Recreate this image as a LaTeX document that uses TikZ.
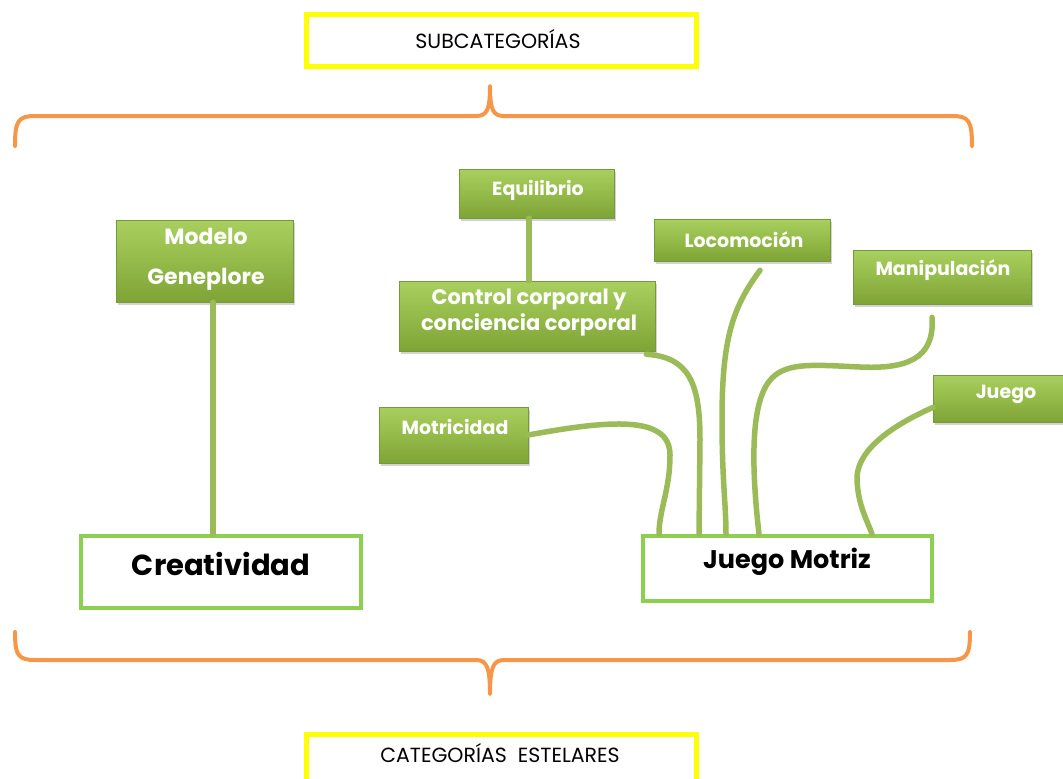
\documentclass[tikz,border=0pt]{standalone}
\usepackage{fontspec}
\setmainfont{Poppins}
\usetikzlibrary{shadows}
\definecolor{gtop}{HTML}{A9D05E}
\definecolor{gbot}{HTML}{7FA436}
\definecolor{gedge}{HTML}{76993A}
\definecolor{link}{HTML}{9BBB59}
\definecolor{frame}{HTML}{8DCF50}
\definecolor{brace}{HTML}{F79646}
\definecolor{yel}{HTML}{FFFF00}
\tikzset{
  gbox/.style={rectangle, inner sep=0pt, top color=gtop, bottom color=gbot,
    draw=gedge, line width=0.6pt,
    drop shadow={shadow xshift=2pt, shadow yshift=-3pt, opacity=0.35}},
  gtext/.style={text=white, align=center, inner sep=0pt},
  small/.style={font=\fontsize{19}{22}\selectfont\bfseries},
  catbox/.style={rectangle, draw=frame, line width=4pt, fill=white, inner sep=0pt},
  tagbox/.style={rectangle, draw=yel, line width=5pt, fill=white, inner sep=0pt},
  link/.style={draw=link, line width=5.5pt, line cap=round},
  brc/.style={draw=brace, line width=4pt, line cap=round, line join=round}
}
\begin{document}
\begin{tikzpicture}[x=1pt, y=-1pt]
\useasboundingbox (0,0) rectangle (1063,779);

% header and footer labels
\node[tagbox, minimum width=390pt, minimum height=52pt] (sub) at (501,40) {};
\node[font=\fontsize{20.5}{22}\selectfont] (subt) at (498,39) {SUBCATEGORÍAS};
\node[tagbox, minimum width=390pt, minimum height=56pt] (cat) at (501,762) {};
\node[font=\fontsize{20.5}{22}\selectfont] (catt) at (500,753) {CATEGORÍAS\ \ ESTELARES};

% braces
\draw[brc] (15,146) .. controls (15,121) and (18,116) .. (35,116) -- (476,116)
  .. controls (487,116) and (490,110) .. (490,86)
  .. controls (490,110) and (493,116) .. (504,116) -- (952,116)
  .. controls (969,116) and (972,121) .. (972,146);
\draw[brc] (15,632) .. controls (15,655) and (18,660) .. (35,660) -- (476,660)
  .. controls (487,660) and (490,668) .. (490,694)
  .. controls (490,668) and (493,660) .. (504,660) -- (950,660)
  .. controls (967,660) and (970,655) .. (970,632);

% main categories
\node[catbox, minimum width=280pt, minimum height=72pt] (crea) at (221,572) {};
\node[font=\fontsize{29}{32}\selectfont\bfseries] (creat) at (221,564) {Creatividad};
\node[catbox, minimum width=289pt, minimum height=65pt] (jm) at (787.5,568.5) {};
\node[font=\fontsize{25.5}{30}\selectfont\bfseries] (jmt) at (787,562) {Juego Motriz};

% subcategory boxes
\node[gbox, minimum width=177pt, minimum height=82pt] (mod) at (204.5,261) {};
\node[gtext, font=\fontsize{22}{40}\selectfont\bfseries] (modt) at (206,259) {Modelo\\Geneplore};
\node[gbox, minimum width=155pt, minimum height=49pt] (equ) at (536.5,193.5) {};
\node[gtext, small] (equt) at (538,190) {Equilibrio};
\node[gbox, minimum width=256pt, minimum height=70pt] (ctl) at (527,316) {};
\node[gtext, font=\fontsize{21}{26}\selectfont\bfseries] (ctlt) at (529,313) {Control corporal y\\conciencia corporal};
\node[gbox, minimum width=176pt, minimum height=42pt] (loc) at (742,240) {};
\node[gtext, small] (loct) at (744,240) {Locomoción};
\node[gbox, minimum width=178pt, minimum height=54pt] (man) at (942,277) {};
\node[gtext, small] (mant) at (943,270) {Manipulación};
\node[gbox, minimum width=149pt, minimum height=56pt] (mot) at (453.5,435) {};
\node[gtext, small] (mott) at (455,427) {Motricidad};
\node[gbox, minimum width=132pt, minimum height=47pt] (jue) at (999,398.5) {};
\node[gtext, small] (juet) at (1006,394) {Juego};

% connectors
\draw[link] ([xshift=8.5pt]mod.south) -- ([xshift=-8pt]crea.north);
\draw[link] ([xshift=-7.5pt]equ.south) -- ([xshift=2pt]ctl.north);
\draw[link] ([xshift=-9pt,yshift=-3pt]ctl.south east)
  .. controls (690,357) and (700,385) .. (700,440)
  -- ([xshift=58pt]jm.north west);
\draw[link] (mot.east) .. controls (610,420) and (670,415) .. (670,455)
  .. controls (670,490) and (659,510) .. ([xshift=18pt]jm.north west);
\draw[link] ([xshift=18pt,yshift=-9pt]loc.south) .. controls (732,308) and (722,340) .. (722,420)
  .. controls (722,480) and (726,505) .. ([xshift=85pt]jm.north west);
\draw[link] ([xshift=-10pt,yshift=-13pt]man.south) .. controls (935,360) and (905,369) .. (860,367)
  .. controls (815,365) and (788,362) .. (772,378)
  .. controls (752,398) and (750,455) .. ([xshift=118pt]jm.north west);
\draw[link] ([yshift=-9pt]jue.west) .. controls (882,430) and (856,455) .. (857,480)
  .. controls (858,505) and (867,520) .. ([xshift=231pt]jm.north west);
\end{tikzpicture}
\end{document}
